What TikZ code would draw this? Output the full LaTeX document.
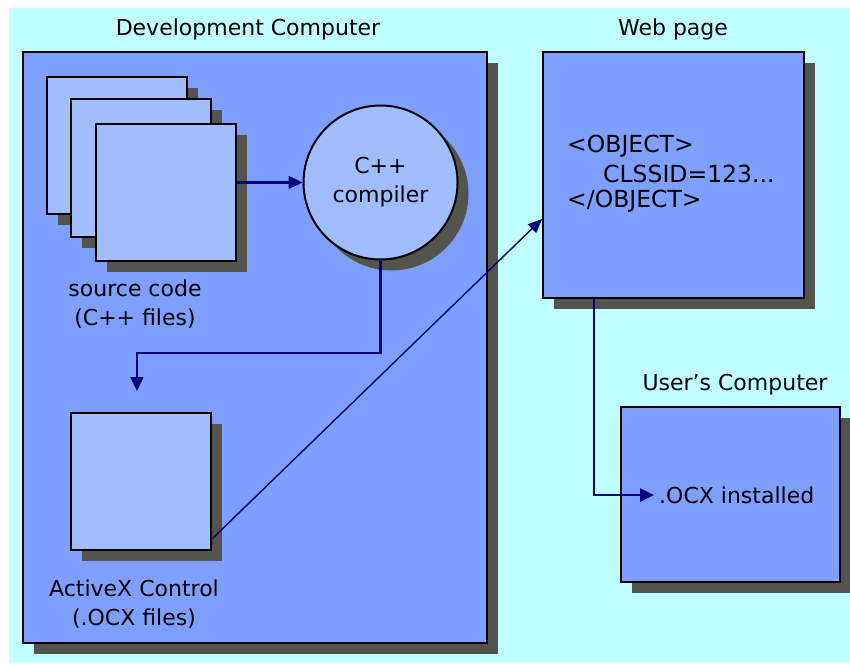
\documentclass[tikz,border=0pt]{standalone}
\usepackage{fontspec}
\setmainfont{DejaVu Sans}
\usetikzlibrary{arrows.meta,shadows,calc}
\definecolor{bgcyan}{RGB}{191,255,255}
\definecolor{boxblue}{RGB}{127,159,255}
\definecolor{lightblue}{RGB}{160,190,255}
\definecolor{shadowgray}{RGB}{84,84,78}
\definecolor{navy}{RGB}{0,0,128}
\tikzset{
  shad/.style={drop shadow={shadow xshift=11pt, shadow yshift=-11pt, fill=shadowgray, opacity=1}},
  bigbox/.style={draw=black, line width=2pt, fill=boxblue, shad, inner sep=0pt},
  filebox/.style={draw=black, line width=2pt, fill=lightblue, shad, inner sep=0pt, minimum width=140pt, minimum height=137pt},
  lbl/.style={font=\fontsize{22}{29}\selectfont, text=black, align=center, inner sep=0pt},
  code/.style={font=\fontsize{23.5}{29}\selectfont, text=black, inner sep=0pt, anchor=west},
  arr/.style={draw=navy, line width=2.4pt, -{Triangle[length=14pt,width=13pt]}},
  thinarr/.style={draw=navy, line width=1.4pt, -{Triangle[length=14pt,width=12pt]}}
}
\begin{document}
\begin{tikzpicture}[x=1pt,y=-1pt]
\useasboundingbox (0,0) rectangle (850,663);
\fill[bgcyan] (9,8) rectangle (850,663);
% boxes
\node[bigbox, minimum width=464pt, minimum height=591pt] (dev) at (255,347.5) {};
\node[bigbox, minimum width=261pt, minimum height=246pt] (wp) at (673.5,175) {};
\node[bigbox, minimum width=219pt, minimum height=175pt] (uc) at (730.5,494.5) {};
% titles
\node[lbl] (devt) at (248,29) {Development Computer};
\node[lbl] (wpt) at (673,29) {Web page};
\node[lbl] (uct) at (735,385) {User's Computer};
% files
\node[filebox] (f1) at (117,145.5) {};
\node[filebox] (f2) at (141,168) {};
\node[filebox] (f3) at (165.5,192.5) {};
\node[lbl] (srcl) at (135,304) {source code\\(C++ files)};
% compiler
\node[circle, draw=black, line width=2pt, fill=lightblue, shad, minimum size=154pt, inner sep=0pt, lbl] (comp) at (380.5,182.5) {C++\\compiler};
% activex
\node[filebox] (ax) at (141,481.5) {};
\node[lbl] (axl) at (134,604) {ActiveX Control\\(.OCX files)};
\coordinate (axin) at (137,391);
% web page text
\node[code] (o1) at (567,146) {<OBJECT>};
\node[code] (o2) at (603,174) {CLSSID=123...};
\node[code] (o3) at (567,201) {</OBJECT>};
% user computer text
\node[lbl, anchor=west] (ocx) at (659,495) {.OCX installed};
% connectors
\draw[arr] (comp.west -| f3.east) -- (comp.west);
\draw[arr] (comp.south) -- ++(0,92.5) -| (axin);
\draw[thinarr] ($(ax.south east)+(1,-13)$) -- ($(wp.north west)+(0,168)$);
\draw[arr] ($(wp.south west)+(52,0)$) |- ($(ocx.west)+(-5,0)$);
\end{tikzpicture}
\end{document}
